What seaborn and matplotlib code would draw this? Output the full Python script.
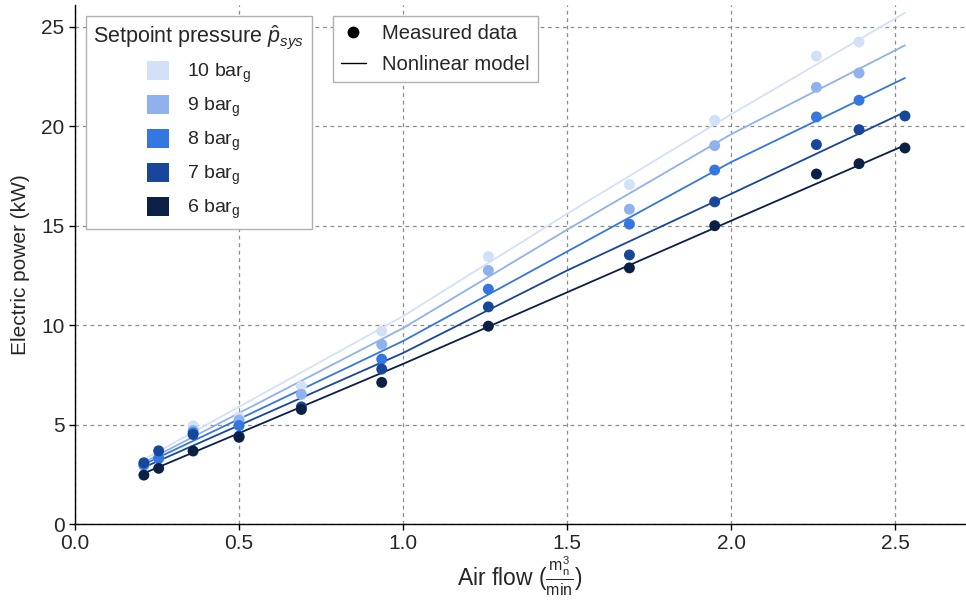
import numpy as np
import pandas as pd
import matplotlib
matplotlib.use("Agg")
import matplotlib.pyplot as plt
from matplotlib.lines import Line2D
from matplotlib.patches import Patch
import seaborn as sns

# ---- data ----
pressures = ["10", "9", "8", "7", "6"]
airflow = [0.21, 0.255, 0.36, 0.50, 0.69, 0.935, 1.26, 1.69, 1.95, 2.26, 2.39, 2.53]
power_10 = [2.88, 3.30, 4.94, 5.36, 6.93, 9.70, 13.45, 17.07, 20.30, 23.53, 24.24, np.nan]
power_9 = [2.95, 3.32, 4.70, 5.22, 6.52, 9.03, 12.75, 15.83, 19.03, 21.96, 22.68, np.nan]
power_8 = [3.00, 3.30, 4.59, 4.95, np.nan, 8.29, 11.81, 15.08, 17.80, 20.47, 21.31, np.nan]
power_7 = [3.08, 3.68, 4.50, 4.42, 5.89, 7.79, 10.92, 13.53, 16.20, 19.08, 19.83, 20.52]
power_6 = [2.46, 2.80, 3.67, 4.36, 5.76, 7.12, 9.95, 12.88, 15.00, 17.60, 18.12, 18.91]

model_x = [0.21, 1.0, 1.5, 2.0, 2.53]
model_10 = [3.25, 10.45, 15.60, 20.60, 25.71]
model_9 = [3.10, 9.85, 14.80, 19.60, 24.07]
model_8 = [3.00, 9.20, 13.70, 18.20, 22.43]
model_7 = [2.85, 8.60, 12.75, 16.60, 20.72]
model_6 = [2.55, 8.05, 11.65, 15.25, 19.05]

x_ticks = [0.0, 0.5, 1.0, 1.5, 2.0, 2.5]
y_ticks = [0, 5, 10, 15, 20, 25]

colors = {"10": "#d3e1f8", "9": "#8fb1ee", "8": "#3477e0", "7": "#17469b", "6": "#0c1f45"}

meas = {"10": power_10, "9": power_9, "8": power_8, "7": power_7, "6": power_6}
mod = {"10": model_10, "9": model_9, "8": model_8, "7": model_7, "6": model_6}

rows = []
for p in pressures:
    for x, y in zip(airflow, meas[p]):
        if not np.isnan(y):
            rows.append({"p": p, "x": x, "y": y})
df_meas = pd.DataFrame(rows)
rows = []
for p in pressures:
    for x, y in zip(model_x, mod[p]):
        rows.append({"p": p, "x": x, "y": y})
df_mod = pd.DataFrame(rows)

# ---- style ----
sns.set_style("white")
plt.rcParams["font.family"] = ["Liberation Sans", "DejaVu Sans"]
plt.rcParams["mathtext.fontset"] = "custom"
plt.rcParams["mathtext.rm"] = "Liberation Sans"
plt.rcParams["mathtext.it"] = "Liberation Sans:italic"
plt.rcParams["mathtext.bf"] = "Liberation Sans:bold"

fig = plt.figure(figsize=(9.66, 6.03), dpi=100)
ax = fig.add_axes([75 / 966, 79 / 603, 890 / 966, 519 / 603])

draw_order = ["6", "7", "8", "9", "10"]
sns.lineplot(data=df_mod, x="x", y="y", hue="p", hue_order=draw_order, palette=colors,
             linewidth=1.3, legend=False, ax=ax, zorder=2)
sns.scatterplot(data=df_meas, x="x", y="y", hue="p", hue_order=draw_order, palette=colors,
                s=62, edgecolor="none", linewidth=0, legend=False, ax=ax, zorder=3)

ax.set_xlim(0, 2.713)
ax.set_ylim(0, 26.1)
ax.set_xticks(x_ticks)
ax.set_yticks(y_ticks)
ax.set_xticklabels([f"{v:.1f}" for v in x_ticks])
ax.set_yticklabels([str(v) for v in y_ticks])
ax.tick_params(axis="both", labelsize=15, length=4, width=1, direction="out", color="black",
               left=True, bottom=True)
ax.grid(True, linestyle=(0, (3, 3)), color="#8c8c8c", linewidth=0.9)
ax.set_axisbelow(True)
for s in ["top", "right"]:
    ax.spines[s].set_visible(False)
for s in ["left", "bottom"]:
    ax.spines[s].set_color("black")
    ax.spines[s].set_linewidth(1.0)

ax.set_xlabel(r"Air flow ($\frac{\mathrm{m}_\mathrm{n}^3}{\mathrm{min}}$)", fontsize=16.5, labelpad=1)
ax.set_ylabel("Electric power (kW)", fontsize=15, labelpad=8)

# legend 1: setpoint pressure
handles1 = [Patch(facecolor=colors[p], edgecolor="none") for p in pressures]
labels1 = [p + r" bar$_\mathrm{g}$" for p in pressures]
leg1 = ax.legend(handles1, labels1, title=r"Setpoint pressure $\hat{p}_{sys}$",
                 loc="upper left", bbox_to_anchor=(0.012, 0.979), borderaxespad=0,
                 fontsize=14, title_fontsize=15.5, handlelength=1.15, handleheight=1.15,
                 handletextpad=0.9, labelspacing=0.5, fancybox=False, framealpha=1,
                 edgecolor="#b0b0b0")
leg1.get_frame().set_linewidth(1.0)
ax.add_artist(leg1)

# legend 2: marker/line meaning
handles2 = [Line2D([], [], marker="o", color="black", linestyle="none", markersize=7.5),
            Line2D([], [], color="black", linewidth=1.0)]
leg2 = ax.legend(handles2, ["Measured data", "Nonlinear model"], loc="upper left",
                 bbox_to_anchor=(0.29, 0.979), borderaxespad=0, fontsize=14.6,
                 handlelength=1.2, handletextpad=0.8, labelspacing=0.6, fancybox=False,
                 framealpha=1, edgecolor="#b0b0b0")
leg2.get_frame().set_linewidth(1.0)

fig.savefig("out.png", dpi=100)
